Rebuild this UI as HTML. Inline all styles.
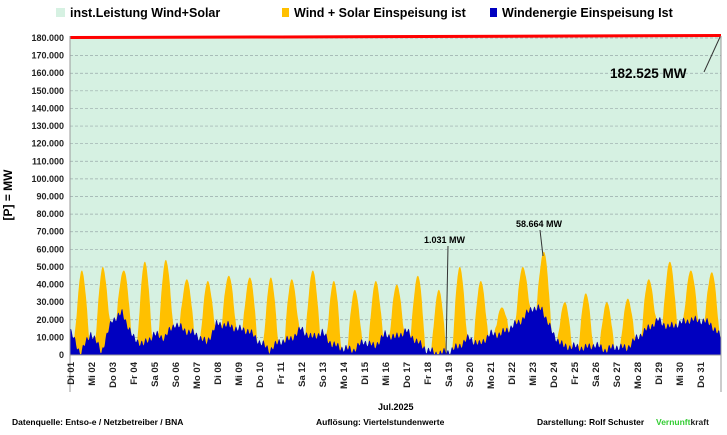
<!DOCTYPE html><html><head><style>body{margin:0;background:#fff}svg{font-family:"Liberation Sans",sans-serif;font-weight:bold}</style></head><body>
<svg id="s" width="727" height="430" xmlns="http://www.w3.org/2000/svg">
<rect width="727" height="430" fill="#fff"/>
<rect x="70" y="36" width="651" height="319" fill="#d6f1e2"/>
<g id="grid"></g>
<path id="ws" fill="#ffc000"/>
<path id="w" fill="#0000c0"/>
<polyline points="70,37.5 280,37 721,35.5" stroke="#ff0000" stroke-width="3" fill="none"/>
<line x1="70" y1="36" x2="70" y2="392" stroke="#999" stroke-width="1"/>
<line x1="721" y1="36" x2="721" y2="392" stroke="#999" stroke-width="1"/>
<line x1="70" y1="355" x2="721" y2="355" stroke="#999"/>
<g id="lab" font-size="9" fill="#222"></g>
<text x="12" y="195" font-size="12" transform="rotate(-90 12 195)" text-anchor="middle">[P] =  MW</text>
<rect x="56" y="8" width="9" height="9" fill="#d6f1e2"/><text x="70" y="17" font-size="12.5">inst.Leistung Wind+Solar</text>
<rect x="282" y="8" width="7" height="9" fill="#ffc000"/><text x="294" y="17" font-size="12.5">Wind + Solar Einspeisung ist</text>
<rect x="490" y="8" width="7" height="9" fill="#0000c0"/><text x="502" y="17" font-size="12.5">Windenergie Einspeisung Ist</text>
<text x="610" y="78" font-size="13.5">182.525 MW</text><line x1="704" y1="72" x2="720" y2="37" stroke="#333"/>
<text x="424" y="243" font-size="9">1.031 MW</text><line x1="448" y1="246" x2="446" y2="354" stroke="#333"/>
<text x="516" y="227" font-size="9">58.664 MW</text><line x1="540" y1="230" x2="543" y2="256" stroke="#333"/>
<text x="378" y="410" font-size="9">Jul.2025</text>
<text x="12" y="425" font-size="8.5">Datenquelle:  Entso-e  / Netzbetreiber / BNA</text>
<text x="316" y="425" font-size="8.5">Auflösung: Viertelstundenwerte</text>
<text x="537" y="425" font-size="8.5">Darstellung:  Rolf Schuster</text>
<text x="656" y="425" font-size="8.5" fill="#33cc33">Vernunft<tspan fill="#222">kraft</tspan></text>
</svg>
<script>
var X0=70,DW=21,Y0=355,K=317/180000;
function Y(v){return Y0-v*K}
var g='',l='';
for(var v=10000;v<=180000;v+=10000){g+='<line x1="70" x2="721" y1="'+Y(v)+'" y2="'+Y(v)+'" stroke="#9aa" stroke-dasharray="3,2" stroke-width="0.7"/>';}
for(v=0;v<=180000;v+=10000){var s=v==0?'0':(v/1000).toFixed(0)+'.000';l+='<text x="64" y="'+(Y(v)+3)+'" text-anchor="end">'+s+'</text>';}
var d=["Di","Mi","Do","Fr","Sa","So","Mo"];
for(var i=0;i<31;i++){var x=X0+i*DW+4,t=d[i%7]+" "+String(i+1).padStart(2,"0");l+='<text transform="translate('+x+',362) rotate(-90)" text-anchor="end" font-size="9.5">'+t+'</text>';}
document.getElementById('grid').innerHTML=g;document.getElementById('lab').innerHTML=l;
var W=[14,1,13,2,20,24,10,6,12,10,18,14,12,7,18,17,15,14,8,3,8,9,15,10,13,6,4,3,8,5,12,10,14,8,3,1,2,5,10,6,12,12,16,20,27,26,12,5,5,4,6,3,5,4,10,15,20,16,18,20,20,18,10];
var P=[48,50,48,53,54,43,42,45,44,44,43,48,42,37,42,40,45,37,50,42,27,50,58.6,30,35,30,32,43,53,48,47];
var N=31*48,a='M70,355',b='M70,355';
for(var k=0;k<=N;k++){var t=k/48,day=Math.floor(t),h=(t-day)*24;
var idx=t*2,i0=Math.min(Math.floor(idx),W.length-2),f=idx-i0;
var w=(W[i0]*(1-f)+W[i0+1]*f)+1.5*Math.sin(k*0.7)+1*Math.sin(k*0.23);if(w<0.5)w=0.5;
var s=0;if(day<31&&h>5&&h<22){var p=Math.max(P[day]-w,4);s=p*Math.pow(Math.sin(Math.PI*(h-5)/17),1.1);}
var x=X0+t*DW;a+=' L'+x.toFixed(1)+','+Y((w+s)*1000).toFixed(1);b+=' L'+x.toFixed(1)+','+Y(w*1000).toFixed(1);}
a+=' L721,355Z';b+=' L721,355Z';
document.getElementById('ws').setAttribute('d',a);document.getElementById('w').setAttribute('d',b);
</script></body></html>
